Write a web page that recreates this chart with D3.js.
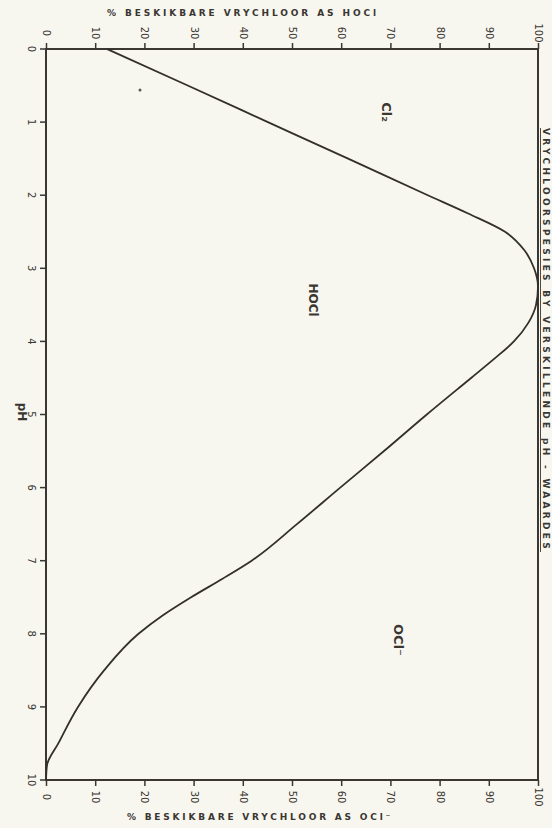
<!DOCTYPE html>
<meta charset="utf-8">
<style>
  body { margin: 0; background: #f8f7ef; }
  svg { display: block; }
  .axis path, .axis line { stroke: #3a3632; }
  .axis text { font-family: "DejaVu Sans", sans-serif; font-size: 10px; fill: #3a3632; }
  .lbl { font-family: "DejaVu Sans", sans-serif; fill: #3a3632; font-weight: bold; }
</style>
<body>
  <script src="https://d3js.org/d3.v7.min.js"></script>
  <script>
    var width = 552,
        height = 828;

    // pH values (vertical axis, top to bottom) and % of free chlorine as HOCl
    var phValues  = [0, 0.5, 1, 1.5, 2, 2.25, 2.5, 2.75, 3, 3.25, 3.5, 3.75, 4, 4.25, 4.5, 5, 5.5, 6, 6.5, 7, 7.25, 7.5, 7.75, 8, 8.5, 9, 9.5, 9.8, 10];
    var hoclPct   = [12.4, 28.8, 45.1, 61.4, 77.6, 85.8, 93.3, 97.2, 99.2, 100, 99.6, 98, 95.1, 90.9, 86.4, 77.4, 68.7, 59.8, 51, 41.8, 35.8, 29.5, 23.7, 18.8, 11.8, 6.5, 2.5, 0.2, 0];

    var pctTicks = d3.range(0, 101, 10);
    var phTicks  = d3.range(0, 11, 1);

    var svg = d3.select("body").append("svg")
        .attr("width", width)
        .attr("height", height);

    var x = d3.scaleLinear().domain([0, 100]).range([46, 538]);
    var y = d3.scaleLinear().domain([0, 10]).range([49, 780]);

    // frame
    svg.append("rect")
        .attr("x", x(0)).attr("y", y(0))
        .attr("width", x(100) - x(0)).attr("height", y(10) - y(0))
        .attr("fill", "none").attr("stroke", "#3a3632").attr("stroke-width", 2);

    // top axis (% HOCl)
    var topAxis = svg.append("g").attr("class", "axis")
        .attr("transform", "translate(0," + y(0) + ")")
        .call(d3.axisTop(x).tickValues(pctTicks).tickSize(6).tickSizeOuter(0));
    topAxis.select(".domain").remove();
    topAxis.selectAll("line").attr("stroke-width", 1.5);
    topAxis.selectAll("text")
        .attr("y", 0).attr("dy", 0)
        .attr("transform", "translate(0,-16) rotate(90)")
        .attr("text-anchor", "middle")
        .attr("dominant-baseline", "central");

    // bottom axis (% OCl-)
    var bottomAxis = svg.append("g").attr("class", "axis")
        .attr("transform", "translate(0," + y(10) + ")")
        .call(d3.axisBottom(x).tickValues(pctTicks).tickSize(6).tickSizeOuter(0));
    bottomAxis.select(".domain").remove();
    bottomAxis.selectAll("line").attr("stroke-width", 1.5);
    bottomAxis.selectAll("text")
        .attr("y", 0).attr("dy", 0)
        .attr("transform", "translate(0,17) rotate(90)")
        .attr("text-anchor", "middle")
        .attr("dominant-baseline", "central");

    // left axis (pH)
    var leftAxis = svg.append("g").attr("class", "axis")
        .attr("transform", "translate(" + x(0) + ",0)")
        .call(d3.axisLeft(y).tickValues(phTicks).tickSize(6).tickSizeOuter(0));
    leftAxis.select(".domain").remove();
    leftAxis.selectAll("line").attr("stroke-width", 1.5);
    leftAxis.selectAll("text")
        .attr("x", 0).attr("dy", 0)
        .attr("transform", function(d) { return "translate(-15," + y(d) + ") rotate(90)"; })
        .attr("text-anchor", "middle")
        .attr("dominant-baseline", "central");
    leftAxis.selectAll(".tick").attr("transform", null);
    leftAxis.selectAll(".tick line")
        .attr("y1", function(d) { return y(d); })
        .attr("y2", function(d) { return y(d); });

    // curve
    var pts = phValues.map(function(p, i) { return [hoclPct[i], p]; });
    var line = d3.line()
        .x(function(d) { return x(d[0]); })
        .y(function(d) { return y(d[1]); })
        .curve(d3.curveMonotoneY);
    svg.append("path")
        .datum(pts)
        .attr("d", line)
        .attr("fill", "none")
        .attr("stroke", "#33302c")
        .attr("stroke-width", 1.8);

    // axis titles
    svg.append("text").attr("class", "lbl")
        .attr("x", 243).attr("y", 16)
        .attr("text-anchor", "middle")
        .attr("font-size", 9).attr("letter-spacing", 2.9)
        .text("% BESKIKBARE  VRYCHLOOR  AS  HOCl");
    svg.append("text").attr("class", "lbl")
        .attr("x", 260).attr("y", 820)
        .attr("text-anchor", "middle")
        .attr("font-size", 9).attr("letter-spacing", 2.8)
        .text("% BESKIKBARE  VRYCHLOOR  AS  OCl⁻");

    function rotLabel(cx, cy, txt, size) {
      return svg.append("text").attr("class", "lbl")
          .attr("transform", "translate(" + cx + "," + cy + ") rotate(90)")
          .attr("text-anchor", "middle")
          .attr("dominant-baseline", "central")
          .attr("font-size", size)
          .text(txt);
    }

    rotLabel(22, 412, "pH", 12);
    rotLabel(386, 112, "Cl₂", 13);
    rotLabel(313, 300, "HOCl", 12);
    rotLabel(398, 640, "OCl⁻", 13);

    rotLabel(546, 340, "VRYCHLOORSPESIES  BY  VERSKILLENDE  pH - WAARDES", 9)
        .attr("letter-spacing", 3.3)
        .style("text-decoration", "underline");

    // small speck in the original drawing
    svg.append("circle").attr("cx", 140).attr("cy", 90).attr("r", 1.5).attr("fill", "#5a5650");
  </script>
</body>
